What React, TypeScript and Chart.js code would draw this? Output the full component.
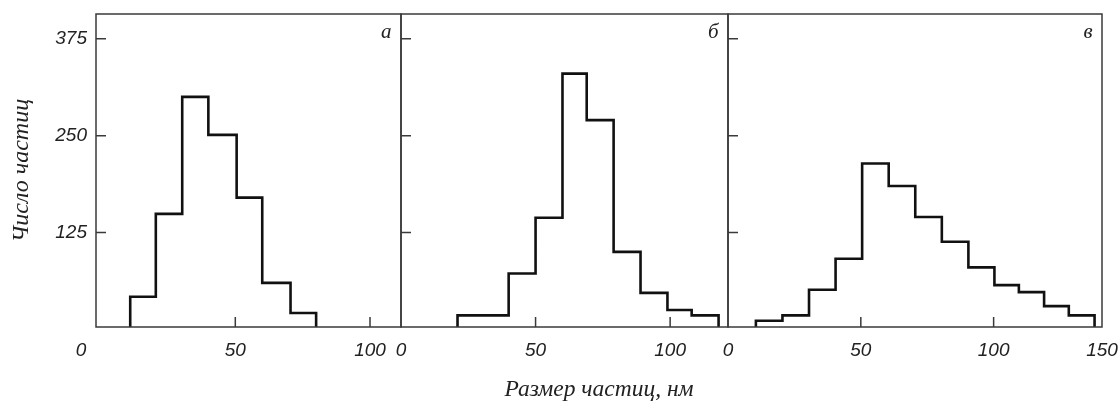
import React, { useEffect, useRef } from "react";
import { Chart, registerables } from "chart.js";
Chart.register(...registerables);

// ---- shared y axis ----
const yTickValues = [125, 250, 375];
const yTickLabels = ["125", "250", "375"];
const yMin = 3;
const yMax = 407;

const panelLabels = ["а", "б", "в"];
const yTitle = "Число частиц";
const xTitle = "Размер частиц, нм";

// ---- panel а ----
const edgesA = [11, 20.5, 30.3, 40, 50.5, 60, 70.5, 80];
const countsA = [42, 149, 300, 251, 170, 60, 21];
const xRangeA = [-1.7, 111.5];
const xTicksA = [50, 100];
const xTickLabelsA = ["50", "100"];
const xZeroTickA = [0];
const xZeroLabelA = ["0"];

// ---- panel б ----
const edgesB = [21, 40, 50, 60, 69, 79, 89, 99, 108, 118];
const countsB = [18, 72, 144, 330, 270, 100, 47, 25, 18];
const xRangeB = [0, 121.5];
const xTicksB = [0, 50, 100];
const xTickLabelsB = ["0", "50", "100"];

// ---- panel в ----
const edgesC = [10.5, 20.5, 30.5, 40.5, 50.5, 60.5, 70.5, 80.5, 90.5, 100.3, 109.5, 119, 128.3, 138];
const countsC = [11, 18, 51, 91, 214, 185, 145, 113, 80, 57, 48, 30, 18];
const xRangeC = [0, 140.8];
const xTicksC = [0, 50, 100, 140.8];
const xTickLabelsC = ["0", "50", "100", "150"];

const TEXT_COLOR = "#222";
const FRAME_COLOR = "#3a3a3a";
const LINE_COLOR = "#111";
const TICK_FONT = { family: '"Liberation Sans", Arial, sans-serif', size: 19, style: "italic" as const };
const SERIF = '"Liberation Serif", "Times New Roman", serif';

function stepPoints(edges: number[], counts: number[]) {
  const pts: { x: number; y: number }[] = [{ x: edges[0], y: 0 }];
  counts.forEach((c, i) => {
    pts.push({ x: edges[i], y: c });
    pts.push({ x: edges[i + 1], y: c });
  });
  pts.push({ x: edges[edges.length - 1], y: 0 });
  return pts;
}

function zeroPad(s: any) {
  s.paddingLeft = 0;
  s.paddingRight = 0;
  s.paddingTop = 0;
  s.paddingBottom = 0;
}

const framePlugin = {
  id: "frame",
  afterDatasetsDraw(chart: any, _args: any, opts: any) {
    const { ctx, chartArea } = chart;
    const { left, right, top, bottom } = chartArea;
    const xs = chart.scales.x;
    const ys = chart.scales.y;
    ctx.save();
    ctx.strokeStyle = FRAME_COLOR;
    ctx.lineWidth = 1.5;
    ctx.strokeRect(left, top, right - left, bottom - top);
    ctx.beginPath();
    for (const v of opts.xTicks as number[]) {
      if (v <= xs.min || v >= xs.max) continue;
      const px = xs.getPixelForValue(v);
      ctx.moveTo(px, bottom);
      ctx.lineTo(px, bottom - 10);
    }
    for (const v of yTickValues) {
      const py = ys.getPixelForValue(v);
      ctx.moveTo(left, py);
      ctx.lineTo(left + 10, py);
    }
    ctx.stroke();
    ctx.font = `italic 21px ${SERIF}`;
    ctx.fillStyle = TEXT_COLOR;
    ctx.textAlign = "right";
    ctx.textBaseline = "middle";
    ctx.fillText(opts.label, right - 9.5, top + 18);
    ctx.restore();
  },
};

function xAxis(range: number[], ticks: number[], labels: string[], height: number, extraTicks: any = {}, extra: any = {}) {
  return {
    type: "linear",
    position: "bottom",
    min: range[0],
    max: range[1],
    afterBuildTicks: (s: any) => {
      s.ticks = ticks.map((v) => ({ value: v }));
    },
    afterFit: (s: any) => {
      s.height = height;
      zeroPad(s);
    },
    ticks: {
      autoSkip: false,
      maxRotation: 0,
      font: TICK_FONT,
      color: TEXT_COLOR,
      padding: 12,
      callback: (v: number) => {
        const i = ticks.indexOf(v);
        return i >= 0 ? labels[i] : "";
      },
      ...extraTicks,
    },
    grid: { display: false, drawTicks: false },
    border: { display: false },
    ...extra,
  };
}

function makeConfig(
  edges: number[],
  counts: number[],
  range: number[],
  xTicks: number[],
  xLabels: string[],
  label: string,
  padding: any,
  first: boolean
): any {
  const scales: any = {
    x: xAxis(range, xTicks, xLabels, 53, {}, { weight: 1 }),
  };
  if (first) {
    // the "0" of panel а sits under the y-axis label column
    scales.x0 = xAxis(range, xZeroTickA, xZeroLabelA, 0, { mirror: true, padding: -34.8, labelOffset: -19.6 }, { weight: 0 });
    scales.y = {
      type: "linear",
      position: "left",
      min: yMin,
      max: yMax,
      afterBuildTicks: (s: any) => {
        s.ticks = yTickValues.map((v) => ({ value: v }));
      },
      afterFit: (s: any) => {
        s.width = 96;
        zeroPad(s);
      },
      ticks: {
        font: TICK_FONT,
        color: TEXT_COLOR,
        padding: 9,
        callback: (v: number) => {
          const i = yTickValues.indexOf(v);
          return i >= 0 ? yTickLabels[i] : "";
        },
      },
      grid: { display: false, drawTicks: false },
      border: { display: false },
      title: {
        display: true,
        text: yTitle,
        color: TEXT_COLOR,
        font: { family: SERIF, size: 24, style: "italic" },
        padding: { top: 7, bottom: 0 },
      },
    };
  } else {
    scales.y = { type: "linear", display: false, min: yMin, max: yMax };
  }
  return {
    type: "line",
    data: {
      datasets: [
        {
          data: stepPoints(edges, counts),
          borderColor: LINE_COLOR,
          borderWidth: 2.6,
          pointRadius: 0,
          fill: false,
          tension: 0,
          borderJoinStyle: "miter",
          borderCapStyle: "butt",
          clip: 0,
        },
      ],
    },
    options: {
      responsive: false,
      animation: false,
      parsing: false,
      layout: { padding },
      scales,
      plugins: {
        legend: { display: false },
        tooltip: { enabled: false },
        frame: { xTicks, label },
      },
    },
    plugins: [framePlugin],
  };
}

export default function App() {
  const refA = useRef<HTMLCanvasElement>(null);
  const refB = useRef<HTMLCanvasElement>(null);
  const refC = useRef<HTMLCanvasElement>(null);

  useEffect(() => {
    const charts = [
      new Chart(
        refA.current!,
        makeConfig(edgesA, countsA, xRangeA, xTicksA, xTickLabelsA, panelLabels[0], { left: 0, top: 14, right: 9, bottom: 0 }, true)
      ),
      new Chart(
        refB.current!,
        makeConfig(edgesB, countsB, xRangeB, xTicksB, xTickLabelsB, panelLabels[1], { left: 10, top: 14, right: 3, bottom: 0 }, false)
      ),
      new Chart(
        refC.current!,
        makeConfig(edgesC, countsC, xRangeC, xTicksC, xTickLabelsC, panelLabels[2], { left: 10, top: 14, right: 16, bottom: 0 }, false)
      ),
    ];
    return () => charts.forEach((c) => c.destroy());
  }, []);

  const canvasStyle = (left: number, width: number): React.CSSProperties => ({
    position: "absolute",
    left,
    top: 0,
    width,
    height: 380,
  });

  return (
    <div style={{ position: "fixed", left: 0, top: 0, width: 1118, height: 402, background: "#fff", overflow: "hidden" }}>
      <canvas ref={refA} width={410} height={380} style={canvasStyle(0, 410)} />
      <canvas ref={refB} width={340} height={380} style={canvasStyle(391, 340)} />
      <canvas ref={refC} width={400} height={380} style={canvasStyle(718, 400)} />
      <div
        style={{
          position: "absolute",
          left: 96,
          width: 1006,
          top: 375,
          lineHeight: "26px",
          textAlign: "center",
          fontFamily: SERIF,
          fontStyle: "italic",
          fontSize: 23.5,
          color: TEXT_COLOR,
        }}
      >
        {xTitle}
      </div>
    </div>
  );
}
